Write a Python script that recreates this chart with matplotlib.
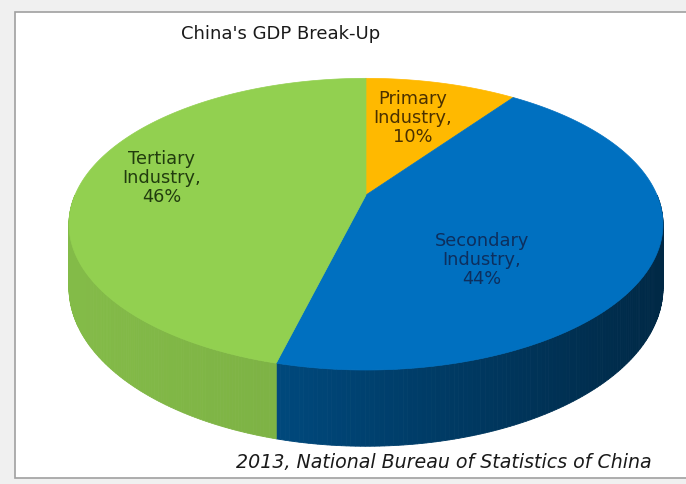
import matplotlib
matplotlib.use('Agg')
import numpy as np
import matplotlib.pyplot as plt
from matplotlib.patches import Rectangle, Polygon
from matplotlib.colors import to_rgb

# data
sectors = ["Primary\nIndustry", "Secondary\nIndustry", "Tertiary\nIndustry"]
shares = [10, 44, 46]
top_colors = ["#FFB900", "#0070C0", "#92D050"]
text_colors = ["#4a3000", "#0d2f5e", "#213c0e"]
title = "China's GDP Break-Up"
source = "2013, National Bureau of Statistics of China"

W, H = 686, 484
# pie geometry in pixels (simple perspective: far side smaller)
CX, CY = 366, 195
AX_, BY_ = 291, 140
PERSP = 0.2
DEPTH = 61

fig = plt.figure(figsize=(W / 100, H / 100), dpi=100)
ax = fig.add_axes([0, 0, 1, 1])
ax.set_xlim(0, W)
ax.set_ylim(H, 0)
ax.axis('off')

# grey page + white chart frame
ax.add_patch(Rectangle((0, 0), W, H, color="#f0f0f0", zorder=0))
ax.add_patch(Rectangle((15, 12), W, 466, facecolor="white",
                       edgecolor="#a0a0a0", lw=1.2, zorder=1))


def project(deg, r=1.0, drop=0.0):
    """angle clockwise from 12 o'clock -> screen pixels"""
    th = np.radians(deg)
    u, v = r * np.sin(th), r * np.cos(th)
    w = 1 + PERSP * v
    return CX + AX_ * u / w, CY - BY_ * v / w + drop / w


def shade(c, f):
    return tuple(np.clip(np.array(to_rgb(c)) * f, 0, 1))


def side_color(i, t):
    # t: 0 at left of the wall, 1 at right
    if i == 1:
        return shade(top_colors[i], 0.80 - 0.44 * t)
    return shade(top_colors[i], 0.90 - 0.12 * t)


bounds = np.concatenate([[0], np.cumsum(shares)]) * 3.6

# side walls: front half of the rim
for i in range(len(shares)):
    a0, a1 = max(bounds[i], 90), min(bounds[i + 1], 270)
    if a1 <= a0:
        continue
    angs = np.linspace(a0, a1, 140)
    xs, ys = project(angs)
    xb, yb = project(angs, drop=DEPTH)
    for k in range(len(angs) - 1):
        t = (min(xs[k], xs[k + 1]) - (CX - 297)) / 594
        quad = [(xs[k], ys[k]), (xs[k + 1], ys[k + 1]),
                (xb[k + 1], yb[k + 1]), (xb[k], yb[k])]
        c = side_color(i, t)
        ax.add_patch(Polygon(quad, closed=True, facecolor=c, edgecolor=c,
                             lw=0.6, zorder=2))

# top faces
for i in range(len(shares)):
    angs = np.linspace(bounds[i], bounds[i + 1], 200)
    xs, ys = project(angs)
    pts = [(CX, CY)] + list(zip(xs, ys))
    ax.add_patch(Polygon(pts, closed=True, facecolor=top_colors[i],
                         edgecolor=top_colors[i], lw=0.5, zorder=3))

# labels
label_pos = [(413, 118), (482, 260), (162, 178)]
for i, (x, y) in enumerate(label_pos):
    ax.text(x, y, f"{sectors[i]},\n{shares[i]}%", ha='center', va='center',
            fontsize=12.8, color=text_colors[i], linespacing=1.08, zorder=5)

ax.text(181, 34, title, ha='left', va='center', fontsize=13,
        color="#1a1a1a", zorder=5)
ax.text(652, 462, source, ha='right', va='center', fontsize=13.7,
        style='italic', color="#1a1a1a", zorder=5)

fig.savefig("out.png", dpi=100)
